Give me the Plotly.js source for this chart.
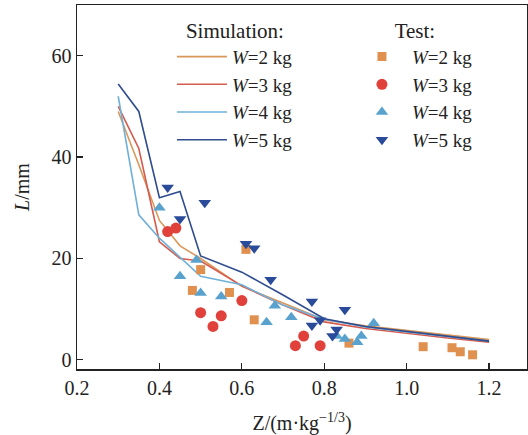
<!DOCTYPE html>
<html>
<head>
<meta charset="utf-8">
<script src="https://cdn.plot.ly/plotly-3.0.1.min.js"></script>
<style>
html,body{margin:0;padding:0;background:#fff;}
#chart{width:528px;height:435px;}
</style>
</head>
<body>
<div id="chart"></div>
<script>
// Simulation curves
const simZ  = [0.3, 0.35, 0.4, 0.45, 0.5, 0.6, 0.7, 0.8, 0.9, 1.0, 1.1, 1.2];
const simW2 = [49.0, 38.5, 27.5, 22.5, 20.0, 14.5, 11.2, 7.9, 6.7, 5.8, 4.8, 4.0];
const simW3 = [50.0, 41.7, 23.3, 20.0, 19.5, 14.6, 10.8, 7.5, 6.2, 5.2, 4.3, 3.5];
const simW4 = [52.0, 28.6, 24.0, 20.3, 16.5, 14.8, 10.8, 8.0, 6.5, 5.5, 4.6, 3.7];
const simW5 = [54.4, 49.0, 32.0, 33.2, 20.5, 17.3, 12.8, 8.1, 6.6, 5.6, 4.6, 3.7];

// Test points
const testW2Z = [0.48, 0.50, 0.57, 0.61, 0.63, 0.86, 1.04, 1.11, 1.13, 1.16];
const testW2L = [13.7, 17.8, 13.3, 21.8, 7.9, 3.3, 2.6, 2.4, 1.6, 1.0];
const testW3Z = [0.42, 0.44, 0.50, 0.53, 0.55, 0.60, 0.73, 0.75, 0.79];
const testW3L = [25.3, 26.0, 9.3, 6.6, 8.7, 11.7, 2.8, 4.7, 2.8];
const testW4Z = [0.40, 0.45, 0.49, 0.50, 0.55, 0.66, 0.68, 0.72, 0.83, 0.85, 0.88, 0.89, 0.92];
const testW4L = [30.0, 16.5, 19.7, 13.2, 12.5, 7.4, 10.7, 8.4, 4.7, 4.1, 3.5, 4.7, 7.2];
const testW5Z = [0.42, 0.45, 0.51, 0.61, 0.63, 0.67, 0.77, 0.77, 0.79, 0.82, 0.83, 0.85];
const testW5L = [34.0, 27.8, 31.0, 22.9, 22.0, 15.8, 11.5, 6.8, 7.8, 4.7, 6.0, 9.9];

const names = ['<i>W</i>=2 kg', '<i>W</i>=3 kg', '<i>W</i>=4 kg', '<i>W</i>=5 kg'];
const lineColors = ['#D9985A', '#D65A4E', '#6FB0D8', '#2F4C8E'];
const markColors = ['#E0904F', '#E0413A', '#5AA2CE', '#2A4A9A'];
const symbols = ['square', 'circle', 'triangle-up', 'triangle-down'];
const sizes = [9, 11, 11, 11];

const simY = [simW2, simW3, simW4, simW5];
const tZ = [testW2Z, testW3Z, testW4Z, testW5Z];
const tL = [testW2L, testW3L, testW4L, testW5L];

const traces = [];
for (let i = 0; i < 4; i++) {
  traces.push({
    x: simZ, y: simY[i], type: 'scatter', mode: 'lines', name: names[i],
    line: {color: lineColors[i], width: 1.6}, legend: 'legend'
  });
}
for (let i = 0; i < 4; i++) {
  traces.push({
    x: tZ[i], y: tL[i], type: 'scatter', mode: 'markers', name: names[i],
    marker: {color: markColors[i], symbol: symbols[i], size: sizes[i]}, legend: 'legend2'
  });
}

const FAM = 'Liberation Serif, DejaVu Serif, serif';
const font = {family: FAM, size: 20, color: '#222'};
const lfont = {family: FAM, size: 19, color: '#222'};

const layout = {
  width: 528, height: 435,
  margin: {l: 77, r: 1, t: 5, b: 66},
  paper_bgcolor: '#fff', plot_bgcolor: '#fff',
  font: font,
  showlegend: true,
  xaxis: {
    range: [0.2, 1.292], tickvals: [0.2, 0.4, 0.6, 0.8, 1.0, 1.2],
    ticktext: ['0.2', '0.4', '0.6', '0.8', '1.0', '1.2'],
    tickfont: font,
    ticks: 'inside', ticklen: 6, tickcolor: '#222', tickwidth: 1.2,
    showline: true, linecolor: '#222', linewidth: 1.5, mirror: true,
    showgrid: false, zeroline: false,
    title: {text: 'Z/(m·kg<sup>−1/3</sup>)', font: font, standoff: 21}
  },
  yaxis: {
    range: [-1.8, 70], tickvals: [0, 20, 40, 60],
    tickfont: font,
    ticks: 'inside', ticklen: 6, tickcolor: '#222', tickwidth: 1.2,
    showline: true, linecolor: '#222', linewidth: 1.5, mirror: true,
    showgrid: false, zeroline: false,
    title: {text: '<i>L</i>/mm', font: font, standoff: 16}
  },
  legend: {
    x: 0.211, y: 0.985, xanchor: 'left', yanchor: 'top',
    bgcolor: 'rgba(0,0,0,0)', borderwidth: 0,
    font: lfont,
    title: {text: 'Simulation:', side: 'top center', font: {family: FAM, size: 21, color: '#222'}},
    itemwidth: 50, tracegroupgap: 0
  },
  legend2: {
    x: 0.611, y: 0.985, xanchor: 'left', yanchor: 'top',
    bgcolor: 'rgba(0,0,0,0)', borderwidth: 0,
    font: lfont,
    title: {text: 'Test:', side: 'top center', font: {family: FAM, size: 21, color: '#222'}},
    itemwidth: 50, tracegroupgap: 0
  }
};

Plotly.newPlot('chart', traces, layout, {displayModeBar: false, staticPlot: true});
</script>
</body>
</html>
